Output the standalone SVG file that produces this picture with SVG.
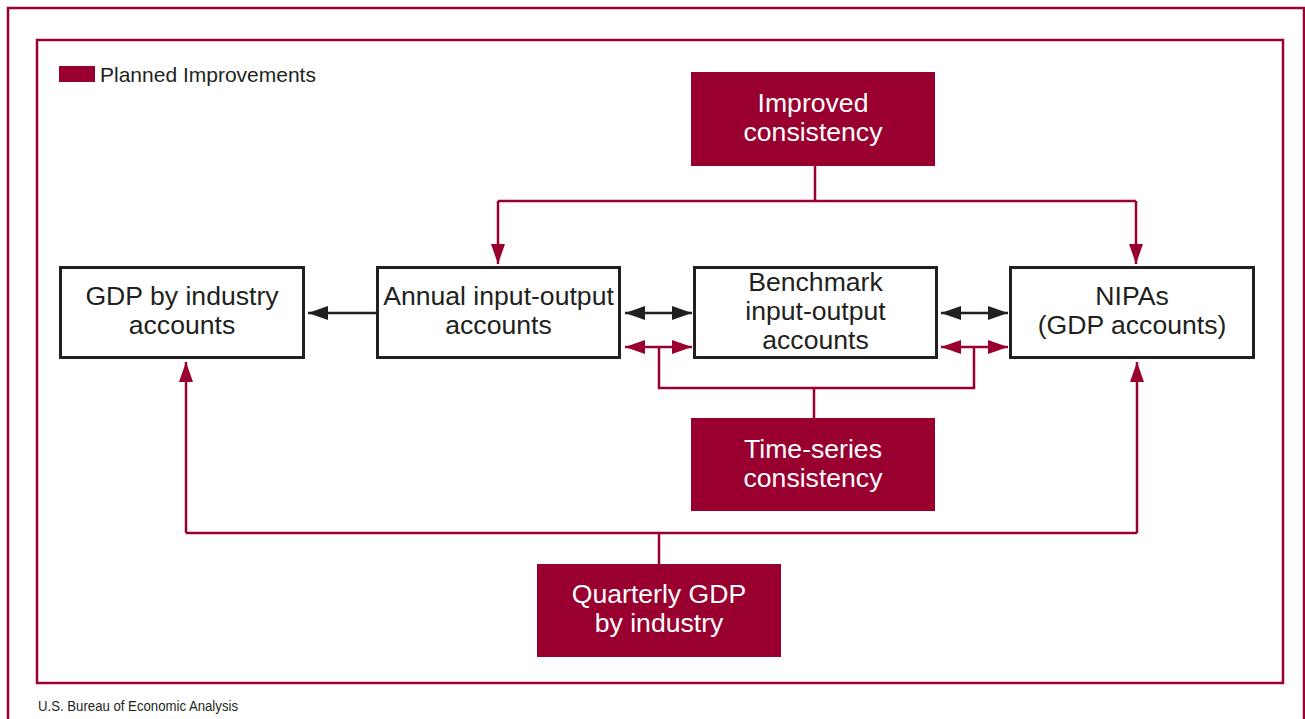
<svg xmlns="http://www.w3.org/2000/svg" width="1305" height="719" viewBox="0 0 1305 719">
  <style>
    .frame{fill:none;stroke:#9a0032;stroke-width:2.5}
    .box{fill:#ffffff;stroke:#231f20;stroke-width:3}
    .rbox{fill:#990030;stroke:none}
    .t{font-family:"Liberation Sans",Arial,sans-serif;font-size:26.6px;fill:#231f20;text-anchor:middle}
    .tw{font-family:"Liberation Sans",Arial,sans-serif;font-size:26.6px;fill:#ffffff;text-anchor:middle}
    .red{fill:none;stroke:#990030;stroke-width:2.5}
    .blk{fill:none;stroke:#231f20;stroke-width:2.5}
  </style>
  <defs>
    <marker id="ar" markerUnits="userSpaceOnUse" markerWidth="20" markerHeight="14" refX="20" refY="7" orient="auto-start-reverse" viewBox="0 0 20 14">
      <path d="M0,0 L20,7 L0,14 z" fill="#990030"/>
    </marker>
    <marker id="ab" markerUnits="userSpaceOnUse" markerWidth="20" markerHeight="14" refX="20" refY="7" orient="auto-start-reverse" viewBox="0 0 20 14">
      <path d="M0,0 L20,7 L0,14 z" fill="#231f20"/>
    </marker>
  </defs>
  <rect width="1305" height="719" fill="#ffffff"/>
  <rect class="frame" x="8" y="8" width="1296" height="730"/>
  <rect class="frame" x="37" y="40" width="1246" height="643"/>

  <g id="legend">
    <rect x="59" y="66" width="36" height="16" fill="#990030"/>
    <text x="100" y="82" font-family="'Liberation Sans',Arial,sans-serif" font-size="21" fill="#231f20">Planned Improvements</text>
  </g>

  <g id="connectors">
    <path class="red" d="M815,166 V201 M498,201 H1136"/>
    <path class="red" d="M498,201 V264" marker-end="url(#ar)"/>
    <path class="red" d="M1136,201 V264" marker-end="url(#ar)"/>
    <path class="blk" d="M376,313 H308" marker-end="url(#ab)"/>
    <path class="blk" d="M625,313 H692" marker-start="url(#ab)" marker-end="url(#ab)"/>
    <path class="blk" d="M941,313 H1008" marker-start="url(#ab)" marker-end="url(#ab)"/>
    <path class="red" d="M625,347 H692" marker-start="url(#ar)" marker-end="url(#ar)"/>
    <path class="red" d="M941,347 H1008" marker-start="url(#ar)" marker-end="url(#ar)"/>
    <path class="red" d="M659,347 V388 H974 V347 M814,388 V418"/>
    <path class="red" d="M659,564 V533 M186,533 H1137"/>
    <path class="red" d="M186,533 V362" marker-end="url(#ar)"/>
    <path class="red" d="M1137,533 V362" marker-end="url(#ar)"/>
  </g>

  <g id="gdp-industry">
    <rect class="box" x="60.5" y="267.5" width="243" height="90"/>
    <text class="t" x="182" y="305">GDP by industry</text>
    <text class="t" x="182" y="334">accounts</text>
  </g>
  <g id="annual-io">
    <rect class="box" x="377.5" y="267.5" width="242" height="90"/>
    <text class="t" x="498.5" y="305">Annual input-output</text>
    <text class="t" x="498.5" y="334">accounts</text>
  </g>
  <g id="benchmark-io">
    <rect class="box" x="694.5" y="267.5" width="242" height="90"/>
    <text class="t" x="815.5" y="291">Benchmark</text>
    <text class="t" x="815.5" y="320">input-output</text>
    <text class="t" x="815.5" y="349">accounts</text>
  </g>
  <g id="nipas">
    <rect class="box" x="1010.5" y="267.5" width="243" height="90"/>
    <text class="t" x="1132" y="305">NIPAs</text>
    <text class="t" x="1132" y="334">(GDP accounts)</text>
  </g>
  <g id="improved-consistency">
    <rect class="rbox" x="691" y="72" width="244" height="94"/>
    <text class="tw" x="813" y="112">Improved</text>
    <text class="tw" x="813" y="141">consistency</text>
  </g>
  <g id="time-series">
    <rect class="rbox" x="691" y="418" width="244" height="93"/>
    <text class="tw" x="813" y="458">Time-series</text>
    <text class="tw" x="813" y="487">consistency</text>
  </g>
  <g id="quarterly-gdp">
    <rect class="rbox" x="537" y="564" width="244" height="93"/>
    <text class="tw" x="659" y="603">Quarterly GDP</text>
    <text class="tw" x="659" y="632">by industry</text>
  </g>

  <text x="38" y="711" font-family="'Liberation Sans',Arial,sans-serif" font-size="15" fill="#231f20" textLength="200" lengthAdjust="spacingAndGlyphs">U.S. Bureau of Economic Analysis</text>
</svg>
